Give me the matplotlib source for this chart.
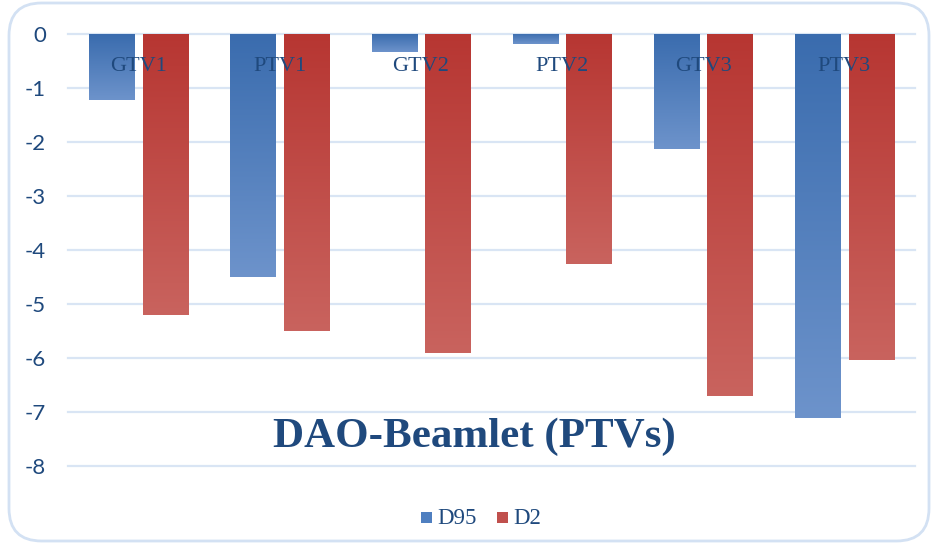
import numpy as np
import matplotlib
matplotlib.use("Agg")
import matplotlib.pyplot as plt
from matplotlib.patches import FancyBboxPatch, Rectangle
from matplotlib.colors import LinearSegmentedColormap

# valeurs
categories = ["GTV1", "PTV1", "GTV2", "PTV2", "GTV3", "PTV3"]
d95 = [-1.22, -4.5, -0.33, -0.19, -2.13, -7.11]
d2 = [-5.2, -5.5, -5.91, -4.26, -6.70, -6.04]
yticks = [0, -1, -2, -3, -4, -5, -6, -7, -8]

txt_col = "#1f497d"
grid_col = "#d9e5f4"

fig = plt.figure(figsize=(9.32, 5.46), dpi=100)
fig.patch.set_facecolor("white")

# cadre arrondi
frame = FancyBboxPatch((9 / 932, 5 / 546), 920 / 932, 538 / 546,
                       boxstyle="round,pad=0,rounding_size=0.035",
                       transform=fig.transFigure, fc="none", ec="#d3e1f3",
                       lw=2.0, mutation_aspect=932 / 546, zorder=-10)
fig.patches.append(frame)

ax = fig.add_axes([68 / 932, 1 - 466 / 546, 847 / 932, 432 / 546])
ax.set_xlim(-0.5, 5.5)
ax.set_ylim(-8, 0)
for s in ax.spines.values():
    s.set_visible(False)
ax.set_xticks([])
ax.set_yticks(yticks)
ax.set_yticklabels([str(v) for v in yticks], fontsize=16, color=txt_col,
                   family=["Lato", "DejaVu Sans"])
ax.tick_params(axis="y", length=0, pad=16)
ax.patch.set_alpha(0)

for v in yticks:
    ax.axhline(v, color=grid_col, lw=1.6, zorder=0, clip_on=False)

blue = LinearSegmentedColormap.from_list("b", ["#3a6cae", "#6d93cb"])
red = LinearSegmentedColormap.from_list("r", ["#b73632", "#c9635e"])
grad = np.linspace(0, 1, 256).reshape(-1, 1)

x = np.arange(len(categories))
w = 0.32
off = 0.19


def grad_bar(xc, val, cmap):
    # barre avec degrade du haut vers le bas
    r = Rectangle((xc - w / 2, val), w, -val, fc="none", ec="none")
    ax.add_patch(r)
    im = ax.imshow(grad, cmap=cmap, aspect="auto", zorder=2,
                   extent=(xc - w / 2, xc + w / 2, val, 0), origin="upper")
    im.set_clip_path(r)


for i in range(len(categories)):
    grad_bar(x[i] - off, d95[i], blue)
    grad_bar(x[i] + off, d2[i], red)
    ax.text(x[i], -0.61, categories[i], ha="center", va="center",
            fontsize=16, color=txt_col, family="Liberation Serif", zorder=5)

ax.set_xlim(-0.5, 5.5)
ax.set_ylim(-8, 0)

fig.text(474 / 932, 1 - 437 / 546, "DAO-Beamlet (PTVs)", ha="center",
         va="center", fontsize=31, fontweight="bold", color=txt_col,
         family="Liberation Serif")

# legende
ly = 1 - 518 / 546
fig.patches.append(Rectangle((421 / 932, ly - 5 / 546), 11 / 932, 11 / 546,
                             transform=fig.transFigure, fc="#4f7fc0", ec="none"))
fig.text(437 / 932, ly, "D95", ha="left", va="center", fontsize=16.5,
         color=txt_col, family="Liberation Serif")
fig.patches.append(Rectangle((497 / 932, ly - 5 / 546), 11 / 932, 11 / 546,
                             transform=fig.transFigure, fc="#c0504d", ec="none"))
fig.text(513 / 932, ly, "D2", ha="left", va="center", fontsize=16.5,
         color=txt_col, family="Liberation Serif")

fig.savefig("out.png", dpi=100, facecolor="white")
